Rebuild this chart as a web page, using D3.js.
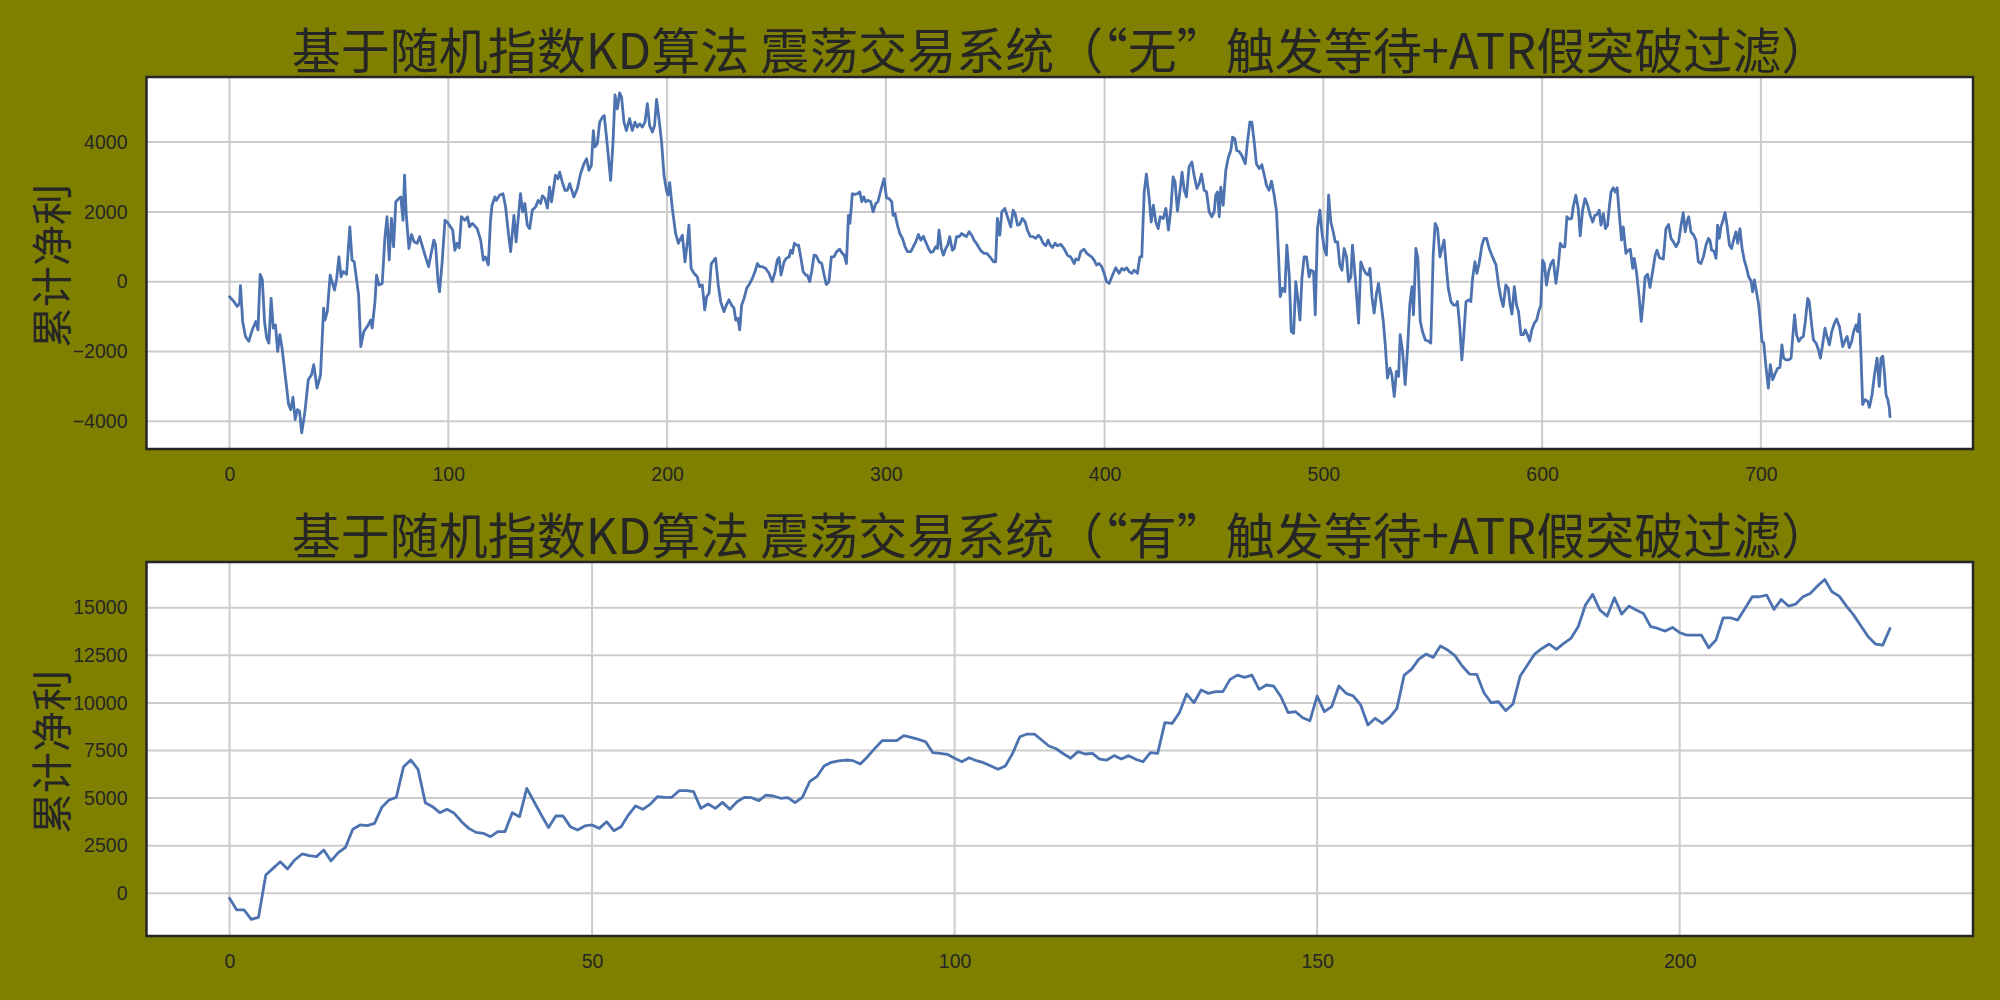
<!DOCTYPE html>
<html>
<head>
<meta charset="utf-8">
<script src="https://cdn.jsdelivr.net/npm/d3@7"></script>
<style>
html,body{margin:0;padding:0;background:#808000;}
svg{display:block;}
</style>
</head>
<body>
<svg id="chart" width="2000" height="1000"></svg>
<script>
// ---------- data ----------
const titleTop = "基于随机指数KD算法 震荡交易系统（“无”触发等待+ATR假突破过滤）";
const titleBottom = "基于随机指数KD算法 震荡交易系统（“有”触发等待+ATR假突破过滤）";
const yLabel = "累计净利";

const topXTicks = [0,100,200,300,400,500,600,700];
const topYTicks = [-4000,-2000,0,2000,4000];
const botXTicks = [0,50,100,150,200];
const botYTicks = [0,2500,5000,7500,10000,12500,15000];

const topCount = 760;   // trades 0..759
const botCount = 230;   // trades 0..229

const topIdx = [0,2,3.5,4.6,5,6,7.3,8.8,10.4,12,13,14,15,16,17,18,19,20,21,22,23,24,25.6,27,28,29,30,31,32,33,34.5,36,37.5,38.5,40,41.6,43,43.6,44.7,46,48,49,50,51,52,53.5,55,56,57,59,60,61.4,63.4,64.5,65.2,66.5,67.2,68.3,69.8,71,72,73,74,75,76,77.4,78.3,79.3,80,80.8,82,83.2,84.4,85.8,86.9,88,89.6,91,92,93.4,94.2,95.3,96,97.2,98.5,99.5,101,102,103,104,105,106,107.6,108.8,109.7,111,112.5,113.2,114.8,116,117,118.3,119.3,120,121.3,122,123.5,125,126.2,127.4,128.5,130,131,133,134,135,136.1,137.2,138.4,139.9,141.1,142.2,143,144.2,145.3,146.3,147.2,149,150.1,150.9,152.1,153.3,154.4,155.5,157.4,159,160.5,162,163.2,164.3,165.4,166.3,167,168.1,169.2,170.4,171.3,172.7,174.2,175.3,176.2,177.3,178.3,179.2,180.3,181.4,182.9,184.1,185.3,186.4,187.5,188.7,189.9,191,192,193.3,194.3,195.2,196.3,197.5,198.6,199.7,200.4,201.2,202.4,203.9,205.2,206.2,207,208.2,209.3,210,211,212.3,213.8,214.9,216.1,217.2,218.1,219.2,220.2,221.5,222.2,223.4,224.5,226,227.1,228.3,229.5,230.6,231.4,232.4,233.2,234.1,235.2,236.4,237.8,239,240.2,241.3,242.3,243.6,245.1,246.6,248.1,249.4,250.4,251.2,252.1,253.5,254.5,255.8,256.5,257.3,258.2,259.1,260.1,261.1,262.2,263.4,264.1,265.2,266.1,267.2,268.2,269.5,270.7,271.8,272.8,274,275.1,276.3,277.5,278.9,280.1,281,282,282.9,283.6,284.7,285.9,287,288.1,289,289.9,290.8,292,293.1,294.2,295.4,296.4,297.7,299.2,300.3,301.5,302.7,303.3,304.2,305.3,306.4,307.6,308.8,309.9,311.4,312.5,313.7,314.9,316,317.2,318.2,319.5,320.5,321.6,322.8,323.6,324.3,325.4,326.3,327.4,328.3,329.2,330.4,331.3,332.3,333.5,334.7,335.8,336.8,338.1,339.3,340.3,341.4,342.3,343.5,344.9,346,346.9,348.1,349.2,350.2,351,352.1,353,354.4,355.6,357.1,358.2,359.1,360.2,361.2,362.4,363.7,364.7,366,367.3,368.5,369.8,370.8,371.9,373.1,374.2,375.1,376.2,377.4,378.4,380,381.5,383,384.5,386.1,386.8,388,389.1,390.6,391.9,392.9,394.1,395.2,396.3,397.5,398.7,399.8,400.9,402.1,403.3,405.1,406.6,407.9,408.9,410.1,411.2,412.4,413.5,415,416.1,417,418.1,419.1,420.4,421.3,422.3,423.4,424.5,425.4,426.8,428,429.2,430.3,431.3,432.2,433.3,434.4,435.4,436.4,437.4,438.6,439.9,440.9,442.2,443.2,444.3,445.5,446.6,447.8,449,450.1,450.8,451.6,452.4,453.1,454.2,455.4,456.6,457.7,458.5,459.5,460.4,461.5,462.7,464.3,465.3,466.4,467.3,468.4,469.4,470.7,471.9,473,474,475.2,476.3,477.5,478.6,479.5,480.3,481.3,482.4,483.3,484.4,485.3,486.4,487.4,488.3,489.3,490.2,491.2,492.3,493.5,494.3,495.5,496.3,497.3,498.4,499.3,500.4,501.4,502.4,503.4,504.5,505.4,506.5,507.5,508.5,509.5,510.6,511.5,512.6,513.3,514.6,516.1,517.1,518.2,519.4,520.5,521.3,522.2,523.2,524.3,525.2,526.3,527.4,528.3,529.3,530.4,531.3,532.4,533.4,534.4,535.1,536.2,537.4,538.5,539.5,540.5,541.2,542.3,543.2,544.3,545.3,546.6,547.9,549.1,550.2,551.1,552.2,553.3,554.2,555.2,556,557.1,558.3,559.5,560.6,561.3,562.4,563.3,564.1,565.2,566.4,567.4,568.2,569.3,570.2,571.2,572.5,573.5,574.6,575.8,577.3,578.9,580.1,581.2,582.2,583.4,584.5,585.4,586.2,587.3,588.3,589.2,590.3,591.4,592.3,593.3,594.3,595.3,596.4,597.5,598.4,599.4,600.2,601,602,603,604,605.1,606.3,607.4,608.3,609.4,610.4,611.3,612.4,613.5,614.2,615.4,616.5,617.4,618.5,619.6,620.8,622,623.1,624.1,625,626.1,626.9,628,628.9,629.9,630.7,631.5,632.5,633.4,634.3,635.3,636.3,637.1,638.3,639.4,640.3,641.4,642.1,643.2,644.4,645.3,646.2,647.1,648.2,649.3,650.5,651.7,652.5,653.6,654.3,655.4,656.6,657.8,658.9,660,661.2,662.4,663.5,664.5,665.4,666.2,667,668,669.3,670.3,671.4,672.6,673.7,674.9,676,676.7,677.5,678.5,679.5,680.2,681,681.7,682.5,683.6,684.5,685.6,686.6,687.5,688.6,689.4,690.4,691.4,692.4,693.5,694.4,695.5,696.2,697,698.1,699,699.7,700.5,701.3,702.3,703.4,704.3,705.4,706.6,707.7,708.7,709.6,710.4,711.5,712.7,713.8,714.5,715.4,716.3,717.3,718.3,719.4,720.3,721.4,722.1,723.2,724,725.2,726.3,727.2,728.2,729.3,730.2,731.3,732.4,733.6,734.6,735.9,737.4,738.6,739.4,740.4,741.5,742.4,743.5,744.2,745,745.8,746.5,747.6,748.8,749.6,750.8,751.9,753.1,754.1,754.9,755.7,756.4,757.2,758,758.7,759];

const topVal = [-430,-570,-710,-620,-115,-1140,-1570,-1710,-1380,-1140,-1380,210,50,-1140,-1620,-1760,-480,-1330,-1240,-2000,-1520,-1900,-2760,-3520,-3670,-3310,-3950,-3670,-3710,-4330,-3710,-2810,-2670,-2380,-3050,-2670,-760,-1100,-860,190,-240,100,710,140,290,210,1570,620,570,-380,-1860,-1430,-1240,-1100,-1330,-570,190,-95,-50,1240,1860,620,1810,1000,2290,2380,2430,1760,3050,1900,950,1350,1140,1100,1290,1050,710,430,760,1190,1050,0,-290,570,1760,1710,1570,1480,900,1100,970,1860,1760,1860,1570,1670,1570,1520,1190,620,710,480,1760,2190,2430,2330,2480,2520,2140,1430,860,1900,1140,2520,2000,2240,1620,1520,2050,2140,2330,2240,2460,2380,2110,2710,2290,3050,2950,3140,2860,2620,2620,2810,2430,2670,3100,3380,3520,3190,3330,4330,3860,3950,4570,4710,4760,3900,2900,4000,5350,4950,5410,5290,4570,4330,4670,4330,4570,4430,4520,4430,4570,5100,4480,4290,4480,5220,4670,4000,3050,2620,2480,2840,2100,1380,1100,1240,1330,570,1140,1620,380,240,140,-140,-95,-810,-430,-330,520,620,670,-95,-570,-860,-670,-520,-670,-760,-1100,-1050,-1380,-670,-480,-190,-50,95,290,520,430,430,380,240,0,290,620,690,190,570,670,710,900,810,1100,1050,1050,710,290,190,190,0,290,760,740,570,520,190,-80,0,710,710,860,930,810,760,520,1900,1670,2520,2500,2520,2570,2290,2430,2290,2330,2290,2000,2240,2290,2620,2950,2400,2380,2290,1900,1950,1620,1380,1240,1000,860,860,1000,1140,1350,1190,1300,1140,950,840,860,1000,950,1480,950,760,950,1050,1290,900,950,1290,1290,1380,1330,1290,1430,1330,1190,1100,1000,880,810,810,760,670,570,570,1810,1330,2000,2100,1860,1570,2050,1950,1620,1640,1810,1710,1480,1300,1290,1240,1330,1260,1100,1030,1190,1050,980,1100,1030,1070,950,760,710,520,650,620,860,930,810,760,710,620,480,520,430,240,0,-50,140,400,240,380,330,400,290,240,330,240,710,710,2570,3080,2380,1710,2190,1710,1520,1860,1810,2100,1480,2100,3000,2860,2020,2570,3140,2620,2430,3290,3430,3050,2670,2810,3080,2620,2570,2000,1860,2000,2480,2570,1860,2710,2190,3190,3570,3760,4140,4100,3760,3730,3620,3380,4000,4570,4570,4000,3380,3240,3350,3050,2760,2620,2880,2480,2000,760,-430,-190,-290,1050,190,-1430,-1480,0,-480,-1100,95,710,710,140,330,290,-950,1520,2050,1430,950,760,2480,1710,1430,1140,1140,480,330,950,710,0,140,1050,95,-1190,570,380,240,190,380,-430,-900,-330,-50,-570,-1140,-1810,-2760,-2480,-2670,-3290,-2570,-2710,-1520,-2000,-2950,-1900,-670,-140,-950,950,670,-1140,-1430,-1670,-1700,-1760,760,1670,1520,710,950,1190,570,-190,-570,-670,-670,-570,-1330,-2240,-1620,-570,-520,-570,95,570,240,520,1050,1240,1240,950,710,480,-95,-480,-710,-95,-190,-670,-930,-140,-670,-860,-1520,-1520,-1380,-1520,-1700,-1380,-1190,-1100,-860,-670,620,520,-95,290,520,620,-50,480,1100,1000,1000,1860,1790,1810,2140,2480,2100,1310,2050,2380,2190,1900,1710,1900,1920,2050,1620,1950,1520,1620,2140,2570,2690,2570,2690,1900,1190,1570,810,900,930,380,670,240,-480,-1140,-570,140,210,-170,290,760,900,690,670,650,1520,1640,1240,1140,1000,1140,1620,1980,1430,1710,1860,1430,1330,1190,570,520,710,1050,1240,1190,900,880,670,1620,1240,1570,1710,1980,1620,1050,950,1190,1430,1100,1520,950,620,380,140,20,-290,50,-330,-670,-1140,-1710,-1760,-2430,-3050,-2380,-2810,-2620,-2480,-2460,-1810,-2190,-2240,-2240,-2190,-1620,-950,-1520,-1710,-1620,-1570,-1140,-480,-570,-1240,-1670,-1760,-1950,-2190,-1810,-1330,-1570,-1810,-1430,-1190,-1070,-1290,-1860,-1670,-1570,-1890,-1710,-1430,-1240,-1430,-930,-2190,-3520,-3380,-3430,-3600,-3240,-2670,-2190,-3000,-2190,-2140,-2570,-3240,-3380,-3620,-3870];

const botVal = [-260,-875,-875,-1365,-1260,960,1310,1660,1280,1750,2065,1980,1925,2275,1700,2135,2415,3360,3590,3550,3675,4515,4900,5040,6650,7000,6510,4760,4550,4235,4410,4200,3760,3410,3200,3150,2975,3240,3240,4235,4025,5510,4810,4110,3450,4060,4060,3500,3325,3535,3590,3410,3760,3290,3500,4110,4585,4410,4670,5075,5040,5040,5390,5390,5335,4460,4690,4460,4775,4410,4810,5040,5020,4865,5160,5110,4990,5020,4760,5040,5860,6125,6685,6880,6950,7000,6965,6790,7175,7610,8015,8015,8015,8280,8190,8085,7960,7385,7350,7300,7090,6910,7120,6965,6860,6685,6510,6685,7350,8225,8365,8365,8050,7735,7590,7330,7090,7440,7315,7350,7050,7000,7230,7050,7230,7035,6910,7385,7350,8960,8925,9485,10465,10010,10675,10500,10590,10590,11235,11460,11340,11460,10710,10940,10885,10325,9485,9540,9220,9065,10360,9540,9800,10885,10500,10360,9890,8840,9190,8925,9240,9710,11460,11760,12285,12565,12390,12985,12775,12480,11935,11515,11500,10535,10010,10060,9590,9940,11410,11990,12565,12860,13090,12810,13125,13390,14000,15140,15700,14875,14560,15520,14665,15085,14875,14700,14000,13910,13770,13965,13685,13560,13560,13560,12900,13300,14470,14470,14350,14960,15575,15575,15660,14910,15435,15085,15190,15575,15750,16135,16485,15840,15610,15085,14610,14035,13475,13090,13035,13910];

// ---------- drawing ----------
const svg = d3.select("#chart");
const FONT = "'Noto Sans CJK SC', 'Noto Sans', sans-serif";
const TICKFONT = "'Liberation Sans', Arial, sans-serif";
const TEXT = "#262626";
const left = 146.5, right = 1973;

function panel(cfg){
  const g = svg.append("g");
  const x = d3.scaleLinear().domain(cfg.xDomain).range([left, right]);
  const y = d3.scaleLinear().domain(cfg.yDomain).range([cfg.bottom, cfg.top]);
  g.append("rect").attr("x", left).attr("y", cfg.top)
    .attr("width", right-left).attr("height", cfg.bottom-cfg.top).attr("fill", "#ffffff");
  // grid
  g.append("g").selectAll("line").data(cfg.xTicks).join("line")
    .attr("x1", d=>x(d)).attr("x2", d=>x(d)).attr("y1", cfg.top).attr("y2", cfg.bottom)
    .attr("stroke", "#cccccc").attr("stroke-width", 2);
  g.append("g").selectAll("line").data(cfg.yTicks).join("line")
    .attr("y1", d=>y(d)).attr("y2", d=>y(d)).attr("x1", left).attr("x2", right)
    .attr("stroke", "#cccccc").attr("stroke-width", 2);
  // axes (labels only)
  const xa = g.append("g").attr("transform", `translate(0,${cfg.bottom})`)
    .call(d3.axisBottom(x).tickValues(cfg.xTicks).tickSize(0).tickPadding(18).tickFormat(d3.format("d")));
  const ya = g.append("g").attr("transform", `translate(${left},0)`)
    .call(d3.axisLeft(y).tickValues(cfg.yTicks).tickSize(0).tickPadding(19).tickFormat(d3.format("d")));
  [xa, ya].forEach(a => {
    a.select(".domain").remove();
    a.selectAll("text").attr("font-family", TICKFONT).attr("font-size", 19.5).attr("fill", TEXT);
  });
  // line
  const line = d3.line().x(d=>x(d[0])).y(d=>y(d[1]));
  g.append("path").datum(cfg.points).attr("d", line)
    .attr("fill", "none").attr("stroke", "#4c72b0").attr("stroke-width", 2.8)
    .attr("stroke-linejoin", "round").attr("stroke-linecap", "round");
  // frame
  g.append("rect").attr("x", left).attr("y", cfg.top)
    .attr("width", right-left).attr("height", cfg.bottom-cfg.top)
    .attr("fill", "none").attr("stroke", "#262626").attr("stroke-width", 2.5);
  // title
  g.append("text").attr("x", 1061).attr("y", cfg.top - 30)
    .attr("text-anchor", "middle").attr("dominant-baseline", "central")
    .attr("font-family", FONT).attr("font-size", 49).attr("fill", TEXT).text(cfg.title);
  // y label
  const cy = (cfg.top + cfg.bottom)/2;
  g.append("text").attr("transform", `translate(48.5,${cy + 3}) rotate(-90)`)
    .attr("text-anchor", "middle").attr("dominant-baseline", "central")
    .attr("font-family", FONT).attr("font-size", 41).attr("fill", TEXT).text(yLabel);
}

const topMargin = 0.05*(topCount-1);
panel({
  top: 77, bottom: 449,
  xDomain: [-topMargin, topCount-1+topMargin],
  yDomain: [-4795, 5865],
  xTicks: topXTicks, yTicks: topYTicks,
  points: topIdx.map((d,i)=>[d, topVal[i]]),
  title: titleTop
});
const botMargin = 0.05*(botCount-1);
panel({
  top: 562, bottom: 936,
  xDomain: [-botMargin, botCount-1+botMargin],
  yDomain: [-2243, 17400],
  xTicks: botXTicks, yTicks: botYTicks,
  points: botVal.map((d,i)=>[i, d]),
  title: titleBottom
});
</script>
</body>
</html>
